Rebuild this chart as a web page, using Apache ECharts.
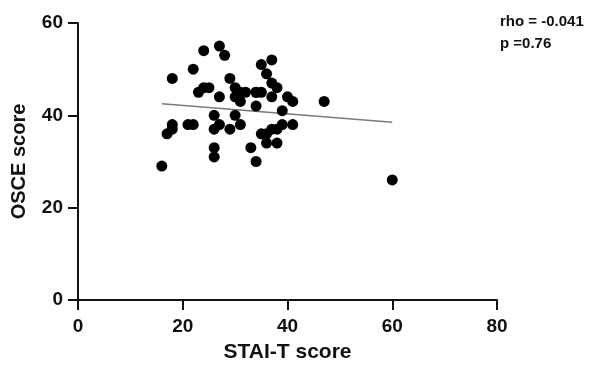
<!DOCTYPE html>
<html>
<head>
<meta charset="utf-8">
<script src="https://cdn.jsdelivr.net/npm/echarts@6/dist/echarts.min.js"></script>
<style>html,body{margin:0;padding:0;background:#fff;}#c{width:593px;height:370px;}</style>
</head>
<body>
<div id="c"></div>
<script>
// STAI-T score (x) and OSCE score (y)
const staiT = [16,17,18,18,18,21,22,22,23,24,24,25,26,26,26,26,27,27,28,27,29,30,31,29,30,31,31,32,34,35,34,33,34,35,36,37,37,38,37,40,41,39,41,39,38,37,35,36,36,38,47,60,30,34];
const osce  = [29,36,38,37,48,38,38,50,45,54,46,46,40,37,33,31,44,55,53,38,37,40,38,48,46,45,43,45,45,45,42,33,30,51,49,52,47,46,44,44,43,41,38,38,37,37,36,36,34,34,43,26,44,45];
// fitted line endpoints
const fitX = [16, 60];
const fitY = [42.5, 38.5];
const xTicks = [0, 20, 40, 60, 80];
const yTicks = [0, 20, 40, 60];
const statsText = ['rho = -0.041', 'p =0.76'];

const pts = staiT.map((x, i) => [x, osce[i]]);
const fit = fitX.map((x, i) => [x, fitY[i]]);
const FONT = '"Liberation Sans", Arial, sans-serif';

const chart = echarts.init(document.getElementById('c'), null, {renderer: 'canvas'});
chart.setOption({
  animation: false,
  backgroundColor: '#fff',
  grid: {left: 78, right: 96, top: 23, bottom: 70, containLabel: false},
  xAxis: {
    type: 'value', min: xTicks[0], max: xTicks[xTicks.length - 1], interval: 20,
    name: 'STAI-T score', nameLocation: 'middle', nameGap: 42,
    nameTextStyle: {fontFamily: FONT, fontWeight: 'bold', fontSize: 21, color: '#111'},
    axisLine: {show: true, onZero: false, lineStyle: {color: '#111', width: 2}},
    axisTick: {show: true, length: 10, lineStyle: {color: '#111', width: 2}},
    axisLabel: {fontFamily: FONT, fontWeight: 'bold', fontSize: 19, color: '#111', margin: 17},
    splitLine: {show: false}
  },
  yAxis: {
    type: 'value', min: yTicks[0], max: yTicks[yTicks.length - 1], interval: 20,
    name: 'OSCE score', nameLocation: 'middle', nameGap: 49,
    nameTextStyle: {fontFamily: FONT, fontWeight: 'bold', fontSize: 20, color: '#111'},
    axisLine: {show: true, onZero: false, lineStyle: {color: '#111', width: 2}},
    axisTick: {show: true, length: 10, lineStyle: {color: '#111', width: 2}},
    axisLabel: {fontFamily: FONT, fontWeight: 'bold', fontSize: 19, color: '#111', margin: 15},
    splitLine: {show: false}
  },
  series: [
    {
      type: 'scatter', data: pts, symbol: 'circle', symbolSize: 11,
      itemStyle: {color: '#000', opacity: 1}, z: 3
    },
    {
      type: 'line', data: fit, symbol: 'none', silent: true,
      lineStyle: {color: '#7a7a7a', width: 1.5}, z: 2
    }
  ],
  graphic: [
    {type: 'text', left: 500, top: 14, style: {text: statsText[0], fontFamily: FONT, fontWeight: 'bold', fontSize: 15, fill: '#111'}},
    {type: 'text', left: 500, top: 36, style: {text: statsText[1], fontFamily: FONT, fontWeight: 'bold', fontSize: 15, fill: '#111'}}
  ]
});
</script>
</body>
</html>
